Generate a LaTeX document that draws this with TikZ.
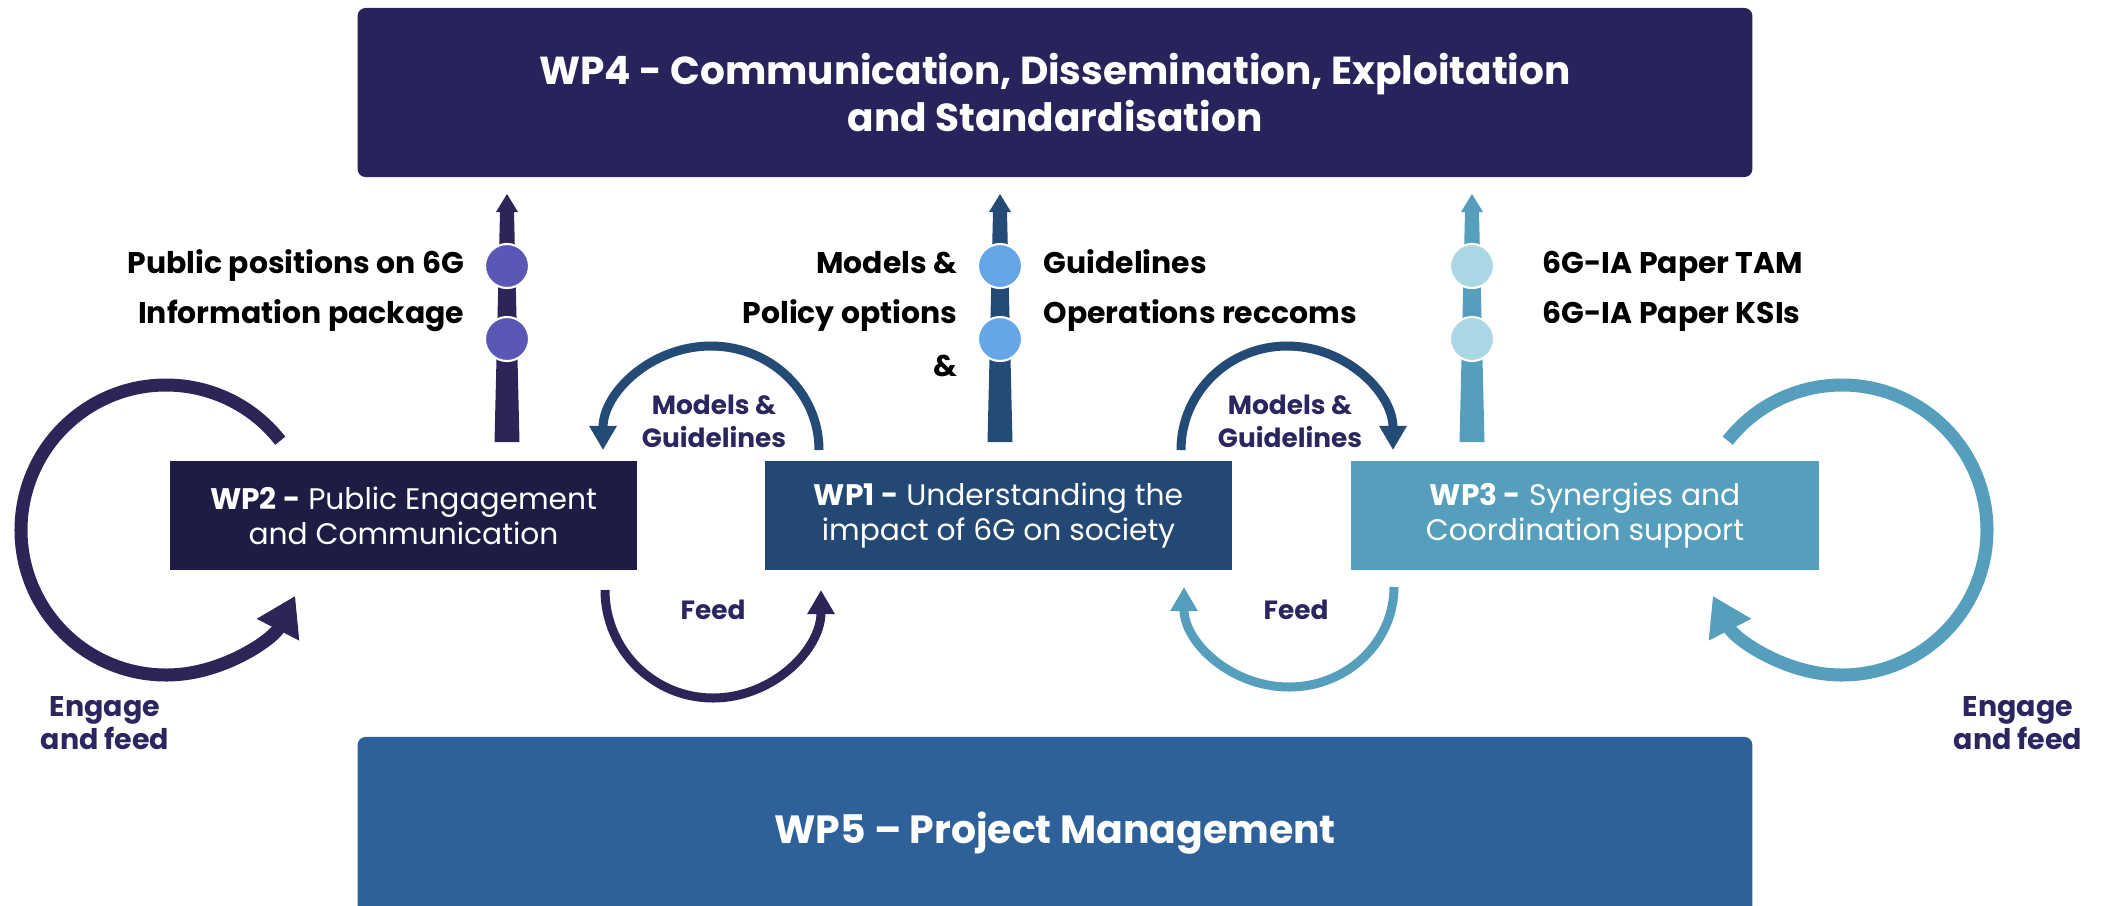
\documentclass[tikz,border=0pt]{standalone}
\usepackage{fontspec}
\setmainfont{Poppins}
\usetikzlibrary{arrows.meta}

\definecolor{wpfour}{HTML}{28245B}
\definecolor{wpfive}{HTML}{2E6199}
\definecolor{wptwo}{HTML}{1E1B44}
\definecolor{wpone}{HTML}{234873}
\definecolor{wpthree}{HTML}{559FBD}
\definecolor{flowtwo}{HTML}{2D2457}
\definecolor{flowone}{HTML}{244B75}
\definecolor{dottwo}{HTML}{5B57B5}
\definecolor{dotone}{HTML}{64A6E6}
\definecolor{dotthree}{HTML}{ABD6E3}
\definecolor{tagtext}{HTML}{2B2560}

\tikzset{
  bigbox/.style={rounded corners=0.08cm, minimum width=13.94cm, text=white, align=center, inner sep=0pt},
  wpbox/.style={minimum width=4.67cm, minimum height=1.09cm, text=white, align=center, inner sep=0pt, font=\fontsize{8.45}{10}\selectfont},
  dot/.style={circle, draw=white, line width=0.6pt, minimum size=0.44cm, inner sep=0pt},
  outtext/.style={font=\bfseries\fontsize{8.5}{9}\selectfont, text=black, inner sep=0pt},
  flowtag/.style={font=\bfseries\fontsize{7.5}{9.4}\selectfont, text=tagtext, align=center, inner sep=0pt},
  bigloop/.style={line width=0.13cm, -{Triangle[width=0.45cm,length=0.38cm]}},
  smallloop/.style={line width=0.09cm, -{Triangle[width=0.26cm,length=0.24cm]}}
}

\begin{document}
\begin{tikzpicture}[x=0.01cm, y=0.01cm]
        \useasboundingbox (0,0) rectangle (2102,-905);
        %top and bottom work packages
        \node[bigbox, fill=wpfour, minimum height=1.69cm, font=\bfseries\fontsize{11.1}{13.4}\selectfont] (wp4) at (1055,-92.5)
            {WP4 - Communication, Dissemination, Exploitation\\and Standardisation};
        \node[bigbox, fill=wpfive, minimum height=1.93cm, font=\bfseries\fontsize{11.2}{13}\selectfont] (wp5) at (1055,-833.5)
            {WP5 – Project Management};
        %middle work packages
        \node[wpbox, fill=wptwo] (wp2) at (403.5,-515.5) {\textbf{WP2 -} Public Engagement\\and Communication};
        \node[wpbox, fill=wpone] (wp1) at (998.5,-515.5) {\textbf{WP1 -} Understanding the\\impact of 6G on society};
        \node[wpbox, fill=wpthree] (wp3) at (1585,-515.5) {\textbf{WP3 -} Synergies and\\Coordination support};
        %stems up to WP4
        \coordinate (s2) at (507,-442);
        \coordinate (s1) at (1000,-442);
        \coordinate (s3) at (1472,-442);
        \fill[flowtwo] (s2) ++(-12.5,0) -- ++(25,0) -- ++(-5.5,230) -- ++(4,0) -- ++(-11,18) -- ++(-11,-18) -- ++(4,0) -- cycle;
        \fill[flowone] (s1) ++(-12.5,0) -- ++(25,0) -- ++(-5.5,230) -- ++(4,0) -- ++(-11,18) -- ++(-11,-18) -- ++(4,0) -- cycle;
        \fill[wpthree] (s3) ++(-12.5,0) -- ++(25,0) -- ++(-5.5,230) -- ++(4,0) -- ++(-11,18) -- ++(-11,-18) -- ++(4,0) -- cycle;
        %outputs of WP2
        \node[dot, fill=dottwo] (d2a) at (507,-266) {};
        \node[dot, fill=dottwo] (d2b) at (507,-339) {};
        \node[outtext, anchor=mid east] (l2a) at (465,-264) {Public positions on 6G};
        \node[outtext, anchor=mid east] (l2b) at (465,-314) {Information package};
        %outputs of WP1
        \node[dot, fill=dotone] (d1a) at (1000,-266) {};
        \node[dot, fill=dotone] (d1b) at (1000,-339) {};
        \node[outtext, anchor=mid east] (l1a) at (958,-264) {Models \&};
        \node[outtext, anchor=mid east] (l1b) at (958,-314) {Policy options};
        \node[outtext, anchor=mid east] (l1c) at (958,-367) {\&};
        \node[outtext, anchor=mid west] (r1a) at (1043,-264) {Guidelines};
        \node[outtext, anchor=mid west] (r1b) at (1043,-314) {Operations reccoms};
        %outputs of WP3
        \node[dot, fill=dotthree] (d3a) at (1472,-266) {};
        \node[dot, fill=dotthree] (d3b) at (1472,-339) {};
        \node[outtext, anchor=mid west] (r3a) at (1542,-264) {6G-IA Paper TAM};
        \node[outtext, anchor=mid west] (r3b) at (1542,-314) {6G-IA Paper KSIs};
        %engage loops
        \coordinate (e2) at ([shift={(38:145)}]166,-530);
        \coordinate (e3) at ([shift={(142:145)}]1842,-530);
        \draw[bigloop, flowtwo] (e2) arc[start angle=38, end angle=333, radius=145];
        \draw[bigloop, wpthree] (e3) arc[start angle=142, end angle=-153, radius=145];
        \node[flowtag, font=\bfseries\fontsize{8.1}{9.4}\selectfont] (g2) at (105,-723) {Engage\\and feed};
        \node[flowtag, font=\bfseries\fontsize{8.1}{9.4}\selectfont] (g3) at (2018,-723) {Engage\\and feed};
        %between WP2 and WP1
        \coordinate (m12) at (819,-450);
        \coordinate (f21) at (605,-590);
        \draw[smallloop, flowone] (m12) arc[start angle=0, end angle=180, x radius=108, y radius=104];
        \draw[smallloop, flowtwo] (f21) arc[start angle=180, end angle=360, radius=108];
        \node[flowtag] (t12) at (714,-421) {Models \&\\Guidelines};
        \node[flowtag] (t21) at (713,-610) {Feed};
        %between WP1 and WP3
        \coordinate (m13) at (1181,-450);
        \coordinate (f31) at (1394,-587);
        \draw[smallloop, flowone] (m13) arc[start angle=180, end angle=0, x radius=106, y radius=104];
        \draw[smallloop, wpthree] (f31) arc[start angle=0, end angle=-180, x radius=105, y radius=100];
        \node[flowtag] (t13) at (1290,-421) {Models \&\\Guidelines};
        \node[flowtag] (t31) at (1296,-610) {Feed};
\end{tikzpicture}
\end{document}
